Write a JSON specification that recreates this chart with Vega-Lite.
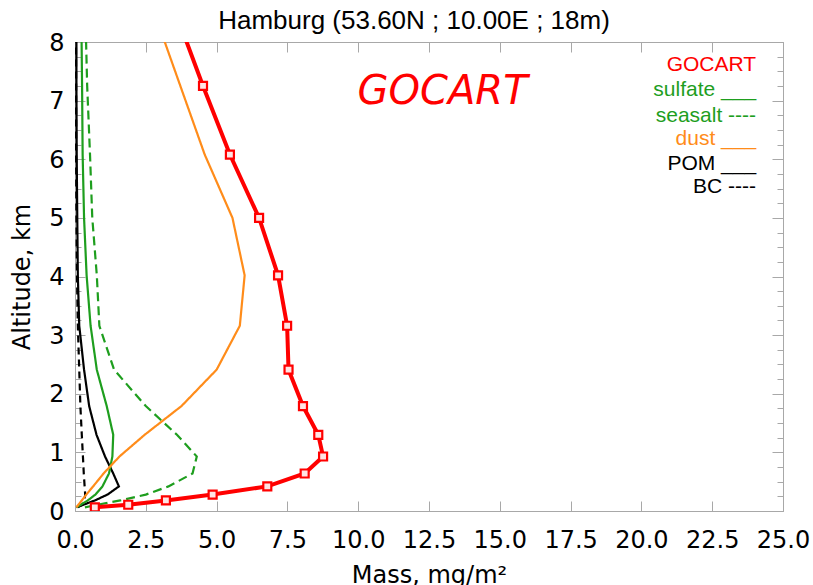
{
  "$schema": "https://vega.github.io/schema/vega-lite/v6.json",
  "autosize": {"type": "none"},
  "width": 708,
  "height": 469,
  "padding": {"left": 75, "top": 42, "right": 30, "bottom": 74},
  "background": "white",
  "view": {"stroke": "#a8a8a8", "strokeWidth": 1},
  "title": {
    "text": "Hamburg (53.60N ; 10.00E ; 18m)",
    "font": "Liberation Sans",
    "fontSize": 26,
    "fontWeight": "normal",
    "color": "black",
    "anchor": "middle",
    "dx": -15,
    "offset": -3
  },
  "config": {
    "axis": {
      "labelFont": "DejaVu Sans",
      "labelFontSize": 24,
      "labelColor": "black",
      "titleFont": "DejaVu Sans",
      "titleFontSize": 24,
      "titleFontWeight": "normal",
      "titleColor": "black",
      "domainColor": "#a8a8a8",
      "tickColor": "#a8a8a8",
      "grid": false
    }
  },
  "datasets": {
    "species": [
      {"species": "BC", "alt": 0.063, "mass": 0.10},
      {"species": "BC", "alt": 0.107, "mass": 0.25},
      {"species": "BC", "alt": 0.18, "mass": 0.33},
      {"species": "BC", "alt": 0.28, "mass": 0.36},
      {"species": "BC", "alt": 0.42, "mass": 0.34},
      {"species": "BC", "alt": 0.64, "mass": 0.31},
      {"species": "BC", "alt": 0.93, "mass": 0.28},
      {"species": "BC", "alt": 1.30, "mass": 0.24},
      {"species": "BC", "alt": 1.79, "mass": 0.19},
      {"species": "BC", "alt": 2.41, "mass": 0.15},
      {"species": "BC", "alt": 3.16, "mass": 0.10},
      {"species": "BC", "alt": 4.02, "mass": 0.07},
      {"species": "BC", "alt": 5.00, "mass": 0.05},
      {"species": "BC", "alt": 6.08, "mass": 0.04},
      {"species": "BC", "alt": 7.25, "mass": 0.04},
      {"species": "BC", "alt": 8.60, "mass": 0.03},
      {"species": "POM", "alt": 0.063, "mass": 0.05},
      {"species": "POM", "alt": 0.107, "mass": 0.30},
      {"species": "POM", "alt": 0.18, "mass": 0.70},
      {"species": "POM", "alt": 0.28, "mass": 1.15},
      {"species": "POM", "alt": 0.42, "mass": 1.55},
      {"species": "POM", "alt": 0.64, "mass": 1.35},
      {"species": "POM", "alt": 0.93, "mass": 1.06},
      {"species": "POM", "alt": 1.30, "mass": 0.76},
      {"species": "POM", "alt": 1.79, "mass": 0.50},
      {"species": "POM", "alt": 2.41, "mass": 0.32},
      {"species": "POM", "alt": 3.16, "mass": 0.15},
      {"species": "POM", "alt": 4.02, "mass": 0.10},
      {"species": "POM", "alt": 5.00, "mass": 0.08},
      {"species": "POM", "alt": 6.08, "mass": 0.06},
      {"species": "POM", "alt": 7.25, "mass": 0.05},
      {"species": "POM", "alt": 8.60, "mass": 0.05},
      {"species": "sulfate", "alt": 0.063, "mass": 0.05},
      {"species": "sulfate", "alt": 0.107, "mass": 0.20},
      {"species": "sulfate", "alt": 0.18, "mass": 0.45},
      {"species": "sulfate", "alt": 0.28, "mass": 0.72},
      {"species": "sulfate", "alt": 0.42, "mass": 0.97},
      {"species": "sulfate", "alt": 0.64, "mass": 1.20},
      {"species": "sulfate", "alt": 0.93, "mass": 1.32},
      {"species": "sulfate", "alt": 1.30, "mass": 1.35},
      {"species": "sulfate", "alt": 1.79, "mass": 1.12},
      {"species": "sulfate", "alt": 2.41, "mass": 0.77},
      {"species": "sulfate", "alt": 3.16, "mass": 0.55},
      {"species": "sulfate", "alt": 4.02, "mass": 0.41},
      {"species": "sulfate", "alt": 5.00, "mass": 0.32},
      {"species": "sulfate", "alt": 6.08, "mass": 0.27},
      {"species": "sulfate", "alt": 7.25, "mass": 0.25},
      {"species": "sulfate", "alt": 8.60, "mass": 0.22},
      {"species": "seasalt", "alt": 0.063, "mass": 0.35},
      {"species": "seasalt", "alt": 0.107, "mass": 0.80},
      {"species": "seasalt", "alt": 0.18, "mass": 1.60},
      {"species": "seasalt", "alt": 0.28, "mass": 2.50},
      {"species": "seasalt", "alt": 0.42, "mass": 3.30},
      {"species": "seasalt", "alt": 0.64, "mass": 4.15},
      {"species": "seasalt", "alt": 0.93, "mass": 4.30},
      {"species": "seasalt", "alt": 1.30, "mass": 3.60},
      {"species": "seasalt", "alt": 1.79, "mass": 2.50},
      {"species": "seasalt", "alt": 2.41, "mass": 1.38},
      {"species": "seasalt", "alt": 3.16, "mass": 0.86},
      {"species": "seasalt", "alt": 4.02, "mass": 0.77},
      {"species": "seasalt", "alt": 5.00, "mass": 0.61},
      {"species": "seasalt", "alt": 6.08, "mass": 0.53},
      {"species": "seasalt", "alt": 7.25, "mass": 0.43},
      {"species": "seasalt", "alt": 8.60, "mass": 0.36},
      {"species": "dust", "alt": 0.063, "mass": 0.05},
      {"species": "dust", "alt": 0.107, "mass": 0.12},
      {"species": "dust", "alt": 0.18, "mass": 0.24},
      {"species": "dust", "alt": 0.28, "mass": 0.40},
      {"species": "dust", "alt": 0.42, "mass": 0.64},
      {"species": "dust", "alt": 0.64, "mass": 1.01},
      {"species": "dust", "alt": 0.93, "mass": 1.57},
      {"species": "dust", "alt": 1.30, "mass": 2.46},
      {"species": "dust", "alt": 1.79, "mass": 3.76},
      {"species": "dust", "alt": 2.41, "mass": 5.00},
      {"species": "dust", "alt": 3.16, "mass": 5.82},
      {"species": "dust", "alt": 4.02, "mass": 5.99},
      {"species": "dust", "alt": 5.00, "mass": 5.56},
      {"species": "dust", "alt": 6.08, "mass": 4.58},
      {"species": "dust", "alt": 7.25, "mass": 3.72},
      {"species": "dust", "alt": 8.60, "mass": 2.73}
    ],
    "gocart": [
      {"alt": 0.063, "mass": 0.70},
      {"alt": 0.107, "mass": 1.88},
      {"alt": 0.18, "mass": 3.21},
      {"alt": 0.28, "mass": 4.86},
      {"alt": 0.42, "mass": 6.79},
      {"alt": 0.64, "mass": 8.11},
      {"alt": 0.93, "mass": 8.76},
      {"alt": 1.30, "mass": 8.59},
      {"alt": 1.79, "mass": 8.05},
      {"alt": 2.41, "mass": 7.54},
      {"alt": 3.16, "mass": 7.49},
      {"alt": 4.02, "mass": 7.17},
      {"alt": 5.00, "mass": 6.50},
      {"alt": 6.08, "mass": 5.47},
      {"alt": 7.25, "mass": 4.52},
      {"alt": 8.60, "mass": 3.48}
    ],
    "legend": [
      {"label": "GOCART", "mass": 24.05, "alt": 7.51, "c": "GOCART"},
      {"label": "sulfate ___", "mass": 24.05, "alt": 7.08, "c": "sulfate"},
      {"label": "seasalt ----", "mass": 24.05, "alt": 6.64, "c": "seasalt"},
      {"label": "dust ___", "mass": 24.05, "alt": 6.25, "c": "dust"},
      {"label": "POM ___", "mass": 24.05, "alt": 5.82, "c": "POM"},
      {"label": "BC ----", "mass": 24.05, "alt": 5.43, "c": "BC"}
    ],
    "dummy": [{"mass": 0, "alt": 0}]
  },
  "resolve": {"axis": {"x": "independent", "y": "independent"}, "scale": {"color": "independent", "strokeDash": "independent"}},
  "layer": [
    {
      "data": {"name": "species"},
      "mark": {"type": "line", "strokeWidth": 2.2, "clip": true},
      "encoding": {
        "x": {
          "field": "mass", "type": "quantitative",
          "scale": {"domain": [0, 25], "nice": false, "zero": false},
          "axis": {
            "orient": "bottom",
            "values": [0, 2.5, 5, 7.5, 10, 12.5, 15, 17.5, 20, 22.5, 25],
            "format": ".1f",
            "tickSize": -10,
            "labelPadding": 27,
            "labelFlush": false,
            "labelOverlap": false,
            "title": "Mass, mg/m²",
            "titlePadding": 11
          }
        },
        "y": {
          "field": "alt", "type": "quantitative",
          "scale": {"domain": [0, 8], "nice": false, "zero": false},
          "axis": {
            "orient": "left",
            "values": [0, 1, 2, 3, 4, 5, 6, 7, 8],
            "format": "d",
            "tickSize": -10,
            "labelPadding": 21,
            "labelFlush": false,
            "labelOverlap": false,
            "labelOffset": 1,
            "title": "Altitude, km",
            "titlePadding": 14
          }
        },
        "order": {"field": "alt", "type": "quantitative"},
        "color": {
          "field": "species", "type": "nominal",
          "scale": {"domain": ["BC", "POM", "sulfate", "seasalt", "dust"], "range": ["#000000", "#000000", "#1e9e1e", "#1e9e1e", "#ff8c1a"]},
          "legend": null
        },
        "strokeDash": {
          "field": "species", "type": "nominal",
          "scale": {"domain": ["BC", "POM", "sulfate", "seasalt", "dust"], "range": [[7, 5], [1, 0], [1, 0], [9, 5], [1, 0]]},
          "legend": null
        }
      }
    },
    {
      "data": {"name": "gocart"},
      "mark": {"type": "line", "color": "#ff0000", "strokeWidth": 4, "clip": true},
      "encoding": {
        "x": {"field": "mass", "type": "quantitative", "axis": null},
        "y": {"field": "alt", "type": "quantitative", "axis": null},
        "order": {"field": "alt", "type": "quantitative"}
      }
    },
    {
      "data": {"name": "gocart"},
      "mark": {"type": "point", "shape": "square", "filled": true, "fill": "#ffe4e4", "stroke": "#ff0000", "strokeWidth": 2.2, "size": 64, "opacity": 1, "clip": true},
      "encoding": {
        "x": {"field": "mass", "type": "quantitative", "axis": null},
        "y": {"field": "alt", "type": "quantitative", "axis": null}
      }
    },
    {
      "data": {"name": "legend"},
      "mark": {"type": "text", "align": "right", "baseline": "alphabetic", "font": "Liberation Sans", "fontSize": 21},
      "encoding": {
        "x": {"field": "mass", "type": "quantitative", "axis": null},
        "y": {"field": "alt", "type": "quantitative", "axis": null},
        "text": {"field": "label"},
        "color": {
          "field": "c", "type": "nominal",
          "scale": {"domain": ["GOCART", "sulfate", "seasalt", "dust", "POM", "BC"], "range": ["#ff0000", "#1e9e1e", "#1e9e1e", "#ff8c1a", "#000000", "#000000"]},
          "legend": null
        }
      }
    },
    {
      "data": {"values": [{"label": "GOCART", "mass": 12.98, "alt": 7.15}]},
      "mark": {"type": "text", "align": "center", "baseline": "middle", "font": "DejaVu Sans", "fontStyle": "oblique", "fontSize": 40, "color": "#ff0000"},
      "encoding": {
        "x": {"field": "mass", "type": "quantitative", "axis": null},
        "y": {"field": "alt", "type": "quantitative", "axis": null},
        "text": {"field": "label"}
      }
    },
    {
      "data": {"name": "dummy"},
      "mark": {"type": "point", "opacity": 0},
      "encoding": {
        "x": {
          "field": "mass", "type": "quantitative",
          "axis": {"orient": "top", "values": [0, 2.5, 5, 7.5, 10, 12.5, 15, 17.5, 20, 22.5, 25], "tickSize": -10, "labels": false, "title": null}
        },
        "y": {
          "field": "alt", "type": "quantitative",
          "axis": {"orient": "right", "values": [0, 1, 2, 3, 4, 5, 6, 7, 8], "tickSize": -11, "labels": false, "title": null}
        }
      }
    },
    {
      "data": {"name": "dummy"},
      "mark": {"type": "point", "opacity": 0},
      "encoding": {
        "x": {"field": "mass", "type": "quantitative", "axis": null},
        "y": {
          "field": "alt", "type": "quantitative",
          "axis": {"orient": "left", "values": [0.25, 0.5, 0.75, 1.25, 1.5, 1.75, 2.25, 2.5, 2.75, 3.25, 3.5, 3.75, 4.25, 4.5, 4.75, 5.25, 5.5, 5.75, 6.25, 6.5, 6.75, 7.25, 7.5, 7.75], "tickSize": -6, "labels": false, "domain": false, "title": null}
        }
      }
    },
    {
      "data": {"name": "dummy"},
      "mark": {"type": "point", "opacity": 0},
      "encoding": {
        "x": {"field": "mass", "type": "quantitative", "axis": null},
        "y": {
          "field": "alt", "type": "quantitative",
          "axis": {"orient": "right", "values": [0.25, 0.5, 0.75, 1.25, 1.5, 1.75, 2.25, 2.5, 2.75, 3.25, 3.5, 3.75, 4.25, 4.5, 4.75, 5.25, 5.5, 5.75, 6.25, 6.5, 6.75, 7.25, 7.5, 7.75], "tickSize": -6, "labels": false, "domain": false, "title": null}
        }
      }
    }
  ]
}
